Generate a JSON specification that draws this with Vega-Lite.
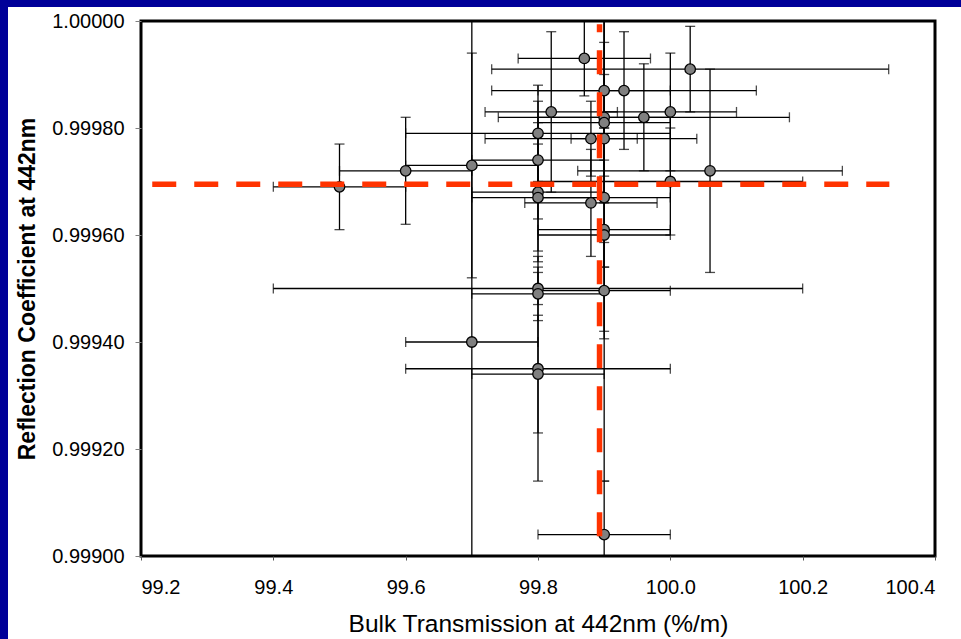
{
  "$schema": "https://vega.github.io/schema/vega-lite/v6.json",
  "background": "white",
  "padding": 0,
  "bounds": "flush",
  "spacing": 0,
  "datasets": {
    "pts": [
      {"x": 99.87, "y": 0.99993, "xe": 0.10, "ye": 0.00007},
      {"x": 100.03, "y": 0.99991, "xe": 0.30, "ye": 0.00008},
      {"x": 99.90, "y": 0.99987, "xe": 0.10, "ye": 0.00016},
      {"x": 99.93, "y": 0.99987, "xe": 0.20, "ye": 0.00011},
      {"x": 99.82, "y": 0.99983, "xe": 0.10, "ye": 0.00015},
      {"x": 100.00, "y": 0.99983, "xe": 0.10, "ye": 0.00011},
      {"x": 99.96, "y": 0.99982, "xe": 0.22, "ye": 0.00010},
      {"x": 99.90, "y": 0.99982, "xe": 0.10, "ye": 0.00008},
      {"x": 99.90, "y": 0.99981, "xe": 0.10, "ye": 0.00015},
      {"x": 99.80, "y": 0.99979, "xe": 0.20, "ye": 0.00009},
      {"x": 99.88, "y": 0.99978, "xe": 0.16, "ye": 0.00007},
      {"x": 99.90, "y": 0.99978, "xe": 0.05, "ye": 0.00024},
      {"x": 99.70, "y": 0.99973, "xe": 0.10, "ye": 0.00021},
      {"x": 99.80, "y": 0.99974, "xe": 0.10, "ye": 0.00011},
      {"x": 100.06, "y": 0.99972, "xe": 0.20, "ye": 0.00019},
      {"x": 100.00, "y": 0.99970, "xe": 0.20, "ye": 0.00010},
      {"x": 99.80, "y": 0.99968, "xe": 0.10, "ye": 0.00013},
      {"x": 99.80, "y": 0.99967, "xe": 0.10, "ye": 0.00010},
      {"x": 99.90, "y": 0.99967, "xe": 0.10, "ye": 0.00013},
      {"x": 99.88, "y": 0.99966, "xe": 0.10, "ye": 0.00010},
      {"x": 99.90, "y": 0.99961, "xe": 0.10, "ye": 0.00019},
      {"x": 99.90, "y": 0.99960, "xe": 0.10, "ye": 0.00046},
      {"x": 99.50, "y": 0.99969, "xe": 0.10, "ye": 0.00008},
      {"x": 99.60, "y": 0.99972, "xe": 0.10, "ye": 0.00010},
      {"x": 99.80, "y": 0.99950, "xe": 0.40, "ye": 0.00003},
      {"x": 99.80, "y": 0.99949, "xe": 0.10, "ye": 0.00005},
      {"x": 99.90, "y": 0.999496, "xe": 0.10, "ye": 0.00009},
      {"x": 99.70, "y": 0.99940, "xe": 0.10, "ye": 0.00070},
      {"x": 99.80, "y": 0.99935, "xe": 0.20, "ye": 0.00021},
      {"x": 99.80, "y": 0.99934, "xe": 0.10, "ye": 0.00011},
      {"x": 99.90, "y": 0.99904, "xe": 0.10, "ye": 0.00010}
    ],
    "refs": [
      {"x": 99.217, "x2": 100.331, "y": 0.999695, "y2": 0.999695},
      {"x": 99.893, "x2": 99.893, "y": 0.999037, "y2": 0.999994}
    ]
  },
  "vconcat": [
    {
      "width": 961,
      "height": 7,
      "view": {"fill": "#000099", "stroke": null},
      "data": {"values": [{}]},
      "mark": {"type": "point", "opacity": 0},
      "encoding": {}
    },
    {
      "bounds": "flush",
      "spacing": 133,
      "hconcat": [
        {
          "width": 8,
          "height": 632,
          "view": {"fill": "#000099", "stroke": null},
          "data": {"values": [{}]},
          "mark": {"type": "point", "opacity": 0},
          "encoding": {}
        },
        {
          "bounds": "flush",
          "spacing": 0,
          "vconcat": [
            {
              "width": 794,
              "height": 14,
              "view": {"fill": null, "stroke": null},
              "data": {"values": [{}]},
              "mark": {"type": "point", "opacity": 0},
              "encoding": {}
            },
            {
              "width": 794,
              "height": 535,
              "view": {"fill": "white", "stroke": "black", "strokeWidth": 3},
              "layer": [
                {
                  "data": {"name": "pts"},
                  "mark": {"type": "errorbar", "ticks": {"size": 10}, "color": "black", "thickness": 1.3, "clip": true},
                  "encoding": {
                    "x": {
                      "field": "x", "type": "quantitative",
                      "title": "Bulk Transmission at 442nm (%/m)",
                      "scale": {"domain": [99.2, 100.4], "nice": false, "zero": false},
                      "axis": {
                        "values": [99.2, 99.4, 99.6, 99.8, 100.0, 100.2, 100.4],
                        "format": ".1f",
                        "domain": false, "grid": false,
                        "tickSize": 4, "tickColor": "#555555",
                        "labelFont": "Liberation Sans", "labelFontSize": 20, "labelColor": "black", "labelPadding": 17,
                        "titleFont": "Liberation Sans", "titleFontSize": 24.5, "titleFontWeight": "normal", "titleColor": "black", "titlePadding": 15
                      }
                    },
                    "xError": {"field": "xe"},
                    "y": {
                      "field": "y", "type": "quantitative",
                      "title": "Reflection Coefficient at 442nm",
                      "scale": {"domain": [0.999, 1.0], "nice": false, "zero": false},
                      "axis": {
                        "values": [0.999, 0.9992, 0.9994, 0.9996, 0.9998, 1.0],
                        "format": ".5f",
                        "domain": false, "grid": false,
                        "tickSize": 6, "tickColor": "#808080",
                        "labelFont": "Liberation Sans", "labelFontSize": 20, "labelColor": "black", "labelPadding": 11,
                        "titleFont": "Liberation Sans", "titleFontSize": 23, "titleFontWeight": "bold", "titleColor": "black", "titlePadding": 12
                      }
                    }
                  }
                },
                {
                  "data": {"name": "pts"},
                  "mark": {"type": "errorbar", "ticks": {"size": 10}, "color": "black", "thickness": 1.3, "clip": true},
                  "encoding": {
                    "x": {"field": "x", "type": "quantitative", "title": "Bulk Transmission at 442nm (%/m)"},
                    "y": {"field": "y", "type": "quantitative", "title": "Reflection Coefficient at 442nm"},
                    "yError": {"field": "ye"}
                  }
                },
                {
                  "data": {"name": "pts"},
                  "mark": {"type": "point", "shape": "circle", "filled": true, "size": 110, "fill": "#808080", "stroke": "black", "strokeWidth": 1.3, "opacity": 1},
                  "encoding": {
                    "x": {"field": "x", "type": "quantitative", "title": "Bulk Transmission at 442nm (%/m)"},
                    "y": {"field": "y", "type": "quantitative", "title": "Reflection Coefficient at 442nm"}
                  }
                },
                {
                  "data": {"name": "refs"},
                  "mark": {"type": "rule", "color": "#FF3300", "strokeWidth": 5.5, "strokeDash": [24, 18], "strokeCap": "butt"},
                  "encoding": {
                    "x": {"field": "x", "type": "quantitative", "title": "Bulk Transmission at 442nm (%/m)"},
                    "x2": {"field": "x2"},
                    "y": {"field": "y", "type": "quantitative", "title": "Reflection Coefficient at 442nm"},
                    "y2": {"field": "y2"}
                  }
                }
              ]
            }
          ]
        }
      ]
    }
  ]
}
